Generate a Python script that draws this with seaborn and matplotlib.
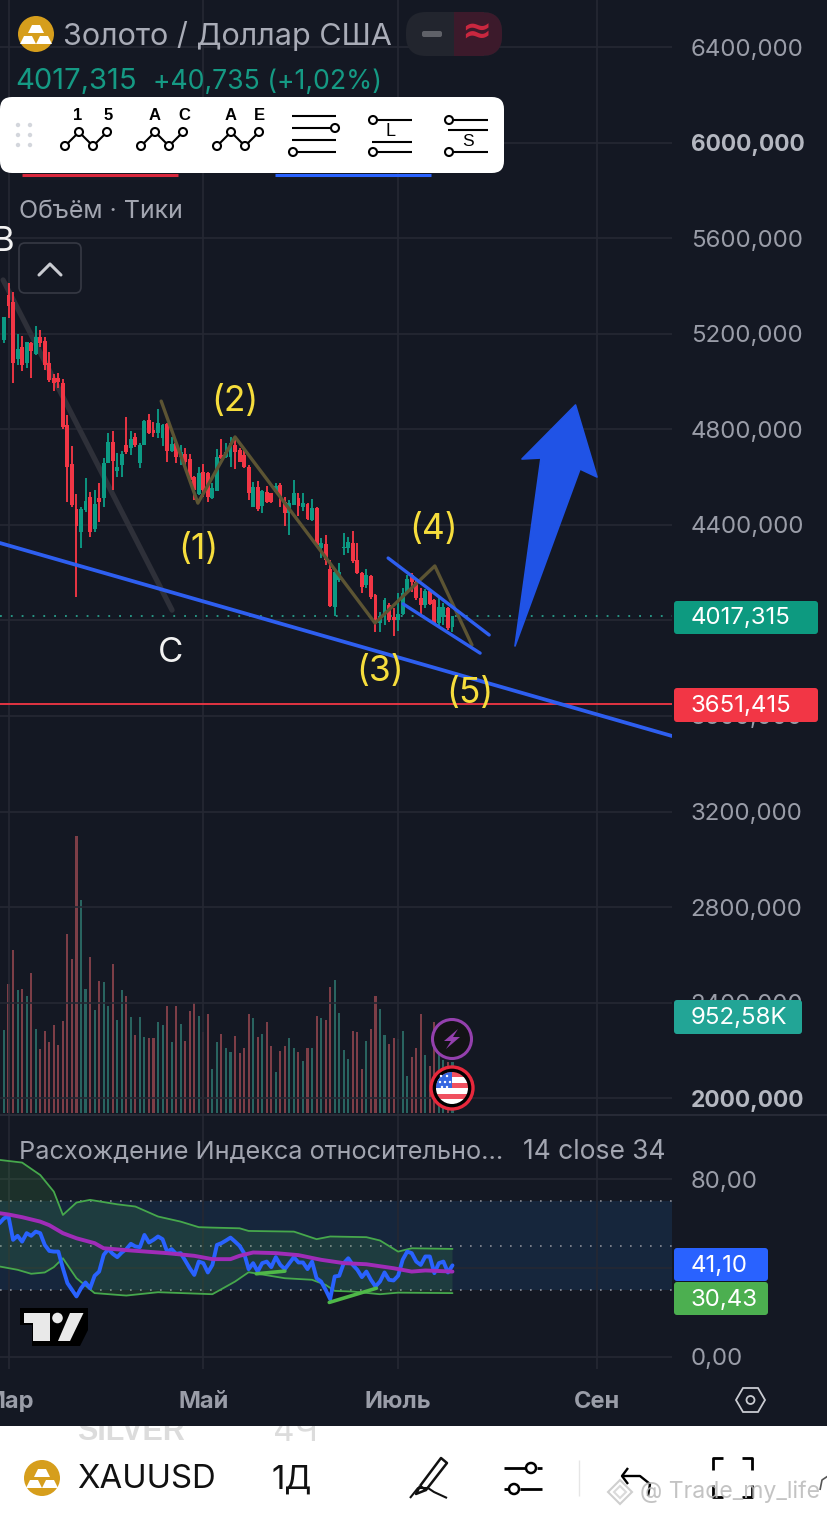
import numpy as np
import pandas as pd
import matplotlib
matplotlib.use("Agg")
import matplotlib.pyplot as plt
from matplotlib.patches import Circle, FancyBboxPatch, Polygon, Rectangle
import seaborn as sns

# ---------- data ----------
OPEN = [5174,5362,5334,5093,5143,5076,5163,5115,5185,5171,
        5076,5014,5014,4993,4818,4655,4465,4372,4462,4515,
        4381,4511,4511,4660,4748,4627,4651,4734,4721,4767,
        4660,4734,4839,4797,4783,4762,4822,4711,4741,4683,
        4697,4677,4602,4529,4620,4619,4511,4543,4693,4683,
        4686,4734,4714,4693,4644,4474,4560,4479,4539,4535,
        4539,4567,4497,4448,4483,4511,4476,4487,4420,4469,
        4302,4320,4214,4058,4169,4302,4302,4325,4253,4200,
        4148,4186,4106,3991,4016,4064,4016,4002,4027,4116,
        4190,4162,4092,4064,4124,4085,3991,4016,4050,3971]
HIGH = [5272,5414,5376,5199,5191,5167,5167,5233,5216,5188,
        5125,5032,5037,5009,4860,4730,4529,4476,4595,4539,
        4546,4574,4679,4783,4793,4700,4709,4850,4794,4786,
        4741,4839,4863,4832,4884,4822,4828,4769,4744,4734,
        4721,4697,4605,4641,4655,4623,4574,4716,4758,4741,
        4769,4772,4721,4714,4651,4581,4585,4546,4563,4535,
        4574,4574,4518,4504,4588,4535,4532,4490,4507,4474,
        4344,4358,4253,4211,4239,4364,4351,4376,4325,4204,
        4214,4190,4111,4037,4092,4074,4050,4113,4134,4190,
        4197,4172,4134,4130,4127,4088,4092,4071,4055,4018]
LOW = [5163,5265,4993,5069,5046,5055,5014,5111,5143,5048,
       5000,4962,4972,4800,4497,4474,4097,4302,4455,4348,
       4372,4414,4476,4658,4546,4599,4602,4695,4693,4725,
       4637,4734,4779,4767,4762,4730,4665,4707,4660,4651,
       4644,4574,4504,4525,4518,4497,4507,4543,4674,4679,
       4644,4634,4662,4637,4504,4474,4460,4448,4490,4490,
       4532,4476,4395,4358,4483,4437,4460,4420,4418,4309,
       4260,4232,4058,4018,4162,4274,4284,4239,4194,4113,
       4134,4088,3953,3953,3981,3995,3935,3957,4023,4113,
       4120,4085,4016,4050,4064,3981,3977,3981,3960,3953]
CLOSE = [5272,5314,5079,5135,5069,5167,5129,5188,5163,5069,
         5007,4993,5000,4808,4641,4483,4395,4465,4501,4372,
         4487,4497,4660,4748,4669,4644,4695,4707,4760,4734,
         4734,4836,4783,4783,4825,4818,4711,4739,4686,4707,
         4665,4588,4546,4616,4546,4518,4553,4683,4679,4707,
         4741,4707,4665,4644,4532,4560,4465,4543,4497,4497,
         4563,4515,4448,4490,4532,4479,4490,4423,4469,4316,
         4323,4253,4060,4204,4204,4309,4330,4250,4197,4138,
         4190,4099,3991,4018,4085,4002,4002,4027,4116,4172,
         4162,4092,4064,4124,4069,3988,4055,4055,3967,4017]
VOLUME_K = [1545,2417,3040,2305,2324,2180,2623,1564,1190,1526,
            1321,1638,1265,1713,3339,2884,5171,3975,2324,2909,
            1919,2461,2442,1994,2779,1732,2293,2180,1788,1452,
            1788,1414,1396,1396,1695,1638,1994,1321,1994,1657,
            1339,1900,2050,1807,1508,1844,816,1321,1470,1209,
            1134,1433,1115,1209,1844,1769,1414,1470,1695,1246,
            760,1153,1246,1396,1209,1134,966,1209,1209,1807,
            1769,1732,2349,2480,1863,1171,1003,1526,1508,816,
            1339,1564,2180,1938,1452,1283,1396,1377,1526,685,
            1040,1209,1844,1078,872,1695,1171,984,953,953]
RSI = [60.1,62.3,63.1,52.6,54.4,51.8,55.6,54.4,56.3,55.6,50.3,
       47.6,47.3,47.3,39.8,33.1,30.1,27.1,30.8,33.4,30.8,
       36.4,38.3,45.8,48.4,46.3,44.8,46.9,48.4,50.8,49.6,
       49.3,54.8,51.4,52.6,54.1,52.9,47.3,48.4,46.3,46.6,
       43.3,39.8,36.8,42.8,42.1,37.9,41.3,50.3,51.1,52.3,
       53.6,51.8,49.9,46.6,39.4,42.1,38.3,42.1,42.8,40.3,
       44.8,41.3,39.4,42.1,44.8,42.4,42.4,39.4,42.8,35.3,
       33.8,30.1,25.9,36.1,36.4,42.1,44.3,41.3,39.1,35.8,
       38.3,34.6,31.6,33.8,37.9,34.6,34.3,36.4,43.6,47.3,
       46.6,42.8,41.3,45.1,45.1,37.6,42.1,42.8,37.9,41.1]
RSI_MA_BAR = [-1,1,4,8,10,13,16,20,22,28,36,42,46,50,52,55,60,65,70,75,80,86,90,93,99]
RSI_MA = [64.6,64.0,62.8,60.8,59.2,55.6,53.3,51.1,48.8,47.8,46.6,45.4,43.9,43.9,45.4,
          46.9,46.6,45.7,43.6,42.1,41.6,39.8,38.3,38.8,38.3]
BB_UP_BAR = [-1,4,8,11,13,16,19,25,29,34,39,43,46,52,54,64,69,72,80,83,87,90,99]
BB_UP = [88.6,87.4,81.8,74.3,63.8,69.4,70.6,68.6,67.6,63.1,60.8,58.3,58.1,57.8,56.6,
         56.3,52.9,54.1,53.8,52.3,47.3,48.8,48.5]
BB_LOW_BAR = [-1,3,6,9,11,13,16,20,27,34,46,51,54,62,68,71,73,77,83,87,99]
BB_LOW = [40.6,39.1,37.3,37.9,40.3,44.3,35.3,28.6,27.5,29.0,28.1,33.8,38.0,35.3,34.6,
          32.3,29.6,29.3,28.1,28.8,28.6]
DIV1_BAR, DIV1 = [55.7,62.0], [37.3,38.5]
DIV2_BAR, DIV2 = [71.8,82.2], [24.4,30.8]

PRICE_TICKS = [6400,6000,5600,5200,4800,4400,4000,3600,3200,2800,2400,2000]
PRICE_LABELS = ["6400,000","6000,000","5600,000","5200,000","4800,000","4400,000",
                "","3600,000","3200,000","2800,000","2400,000","2000,000"]
RSI_TICKS = [0,40,80]
RSI_LABELS = ["0,00","","80,00"]
MONTH_BARS = [1,44,87,131]
MONTHS = ["Мар","Май","Июль","Сен"]
LAST_PRICE = 4017.315
RED_LEVEL = 3651.415
WAVE_BAR, WAVE_PRICE = [34.7,42.8,51.0,81.9,95.1,103.3], [4918,4491,4768,3989,4228,3897]
GREY_BAR, GREY_PRICE = [-0.2,37.1], [5425,4043]
TREND_BAR, TREND_PRICE = [-0.9,147.5], [4324,3516]
CH_UP_BAR, CH_UP = [84.8,107.1], [4261,3939]
CH_LOW_BAR, CH_LOW = [88.1,105.1], [4069,3863]

# ---------- style ----------
BG = "#141823"
GRID = "#252833"
AXTXT = "#9a9da8"
UP, DOWN = "#0c9a84", "#f23645"
sns.set_theme(style="dark", rc={"axes.facecolor": "none", "figure.facecolor": BG,
                                "axes.edgecolor": BG, "axes.linewidth": 0,
                                "xtick.color": AXTXT, "ytick.color": AXTXT,
                                "patch.edgecolor": "none"})
plt.rcParams["font.family"] = ["Inter", "DejaVu Sans"]

W, H = 828, 1516
fig = plt.figure(figsize=(W/100, H/100), dpi=100, facecolor=BG)
def px_axes(x0, y0, x1, y1, **kw):
    return fig.add_axes([x0/W, 1-y1/H, (x1-x0)/W, (y1-y0)/H], **kw)

XLIM = (-0.883, 147.46)
bars = np.arange(100)
O, Hi, Lo, C = map(np.array, (OPEN, HIGH, LOW, CLOSE))
rising = C >= O

# ---------- volume ----------
vol_ax = px_axes(0, 830, 672, 1113, zorder=1)
df = pd.DataFrame({"bar": bars, "vol": VOLUME_K, "dir": np.where(rising, "up", "down")})
sns.barplot(data=df, x="bar", y="vol", hue="dir", palette={"up": "#1f6e68", "down": "#873340"},
            native_scale=True, dodge=False, width=0.46, legend=False, ax=vol_ax, linewidth=0)
vol_ax.set_xlim(*XLIM); vol_ax.set_ylim(0, 5289); vol_ax.axis("off")

# ---------- price pane ----------
ax = px_axes(0, 0, 672, 1115, zorder=2)
ax.set_xlim(*XLIM); ax.set_ylim(6597-4.186*1115, 6597)
ax.set_xticks(MONTH_BARS); ax.set_xticklabels([])
ax.set_yticks(PRICE_TICKS); ax.set_yticklabels(PRICE_LABELS)
ax.yaxis.tick_right()
ax.tick_params(axis="y", length=0, pad=13.5, labelsize=17.3, labelcolor=AXTXT)
ax.tick_params(axis="x", length=0)
ax.grid(True, color=GRID, lw=1.2)
for lab, v in zip(ax.get_yticklabels(), PRICE_TICKS):
    if v in (6000, 2000):
        lab.set_fontweight("bold"); lab.set_color("#b4b7c0"); lab.set_fontsize(16.4)
ax.axhline(LAST_PRICE, color="#2aa08c", lw=1.3, ls=(0, (1, 5)), zorder=3)
ax.axhline(RED_LEVEL, color="#f23645", lw=1.3, zorder=3)
sns.lineplot(x=GREY_BAR, y=GREY_PRICE, ax=ax, color="#2e3039", lw=3.8, sort=False, zorder=3)
ax.vlines(bars, Lo, Hi, colors=np.where(rising, UP, DOWN), lw=1.35, zorder=4)
ax.bar(bars, np.maximum(np.abs(C-O), 3), bottom=np.minimum(O, C), width=0.86,
       color=np.where(rising, UP, DOWN), lw=0, zorder=4)
sns.lineplot(x=WAVE_BAR, y=WAVE_PRICE, ax=ax, color="#5c5433", lw=2.4, sort=False, zorder=5)
sns.lineplot(x=TREND_BAR, y=TREND_PRICE, ax=ax, color="#2e5ff0", lw=2.7, sort=False, zorder=6)
sns.lineplot(x=CH_UP_BAR, y=CH_UP, ax=ax, color="#2e5ff0", lw=2.4, sort=False, zorder=6)
sns.lineplot(x=CH_LOW_BAR, y=CH_LOW, ax=ax, color="#2e5ff0", lw=2.4, sort=False, zorder=6)
ax.set_xlabel(""); ax.set_ylabel("")

# ---------- RSI pane ----------
rx = px_axes(0, 1115, 672, 1369, zorder=2)
rx.set_xlim(*XLIM); rx.set_ylim((1356.6-1369)/2.22, (1356.6-1115)/2.22)
rx.axhspan(30, 70, color="#16263c", lw=0, zorder=0)
rx.set_xticks(MONTH_BARS); rx.set_xticklabels(MONTHS, fontweight="bold", fontsize=17, color="#9a9da8")
rx.set_yticks(RSI_TICKS); rx.set_yticklabels(RSI_LABELS)
rx.yaxis.tick_right()
rx.tick_params(axis="y", length=0, pad=13.5, labelsize=17.3, labelcolor=AXTXT)
rx.tick_params(axis="x", length=0, pad=15.5)
rx.grid(True, color=GRID, lw=1.2)
for lvl in (70, 50, 30):
    rx.axhline(lvl, color="#8a8d97", lw=1.2, ls=(0, (1, 5)), zorder=2)
rx.fill(BB_UP_BAR + BB_LOW_BAR[::-1], BB_UP + BB_LOW[::-1], color="#4caf50", alpha=0.16, lw=0, zorder=2)
sns.lineplot(x=BB_UP_BAR, y=BB_UP, ax=rx, color="#46a84c", lw=1.3, sort=False, zorder=3)
sns.lineplot(x=BB_LOW_BAR, y=BB_LOW, ax=rx, color="#46a84c", lw=1.3, sort=False, zorder=3)
sns.lineplot(x=np.arange(-1, 100), y=RSI, ax=rx, color="#2962ff", lw=2.8, sort=False, zorder=4)
sns.lineplot(x=RSI_MA_BAR, y=RSI_MA, ax=rx, color="#a02cb8", lw=2.8, sort=False, zorder=5)
sns.lineplot(x=DIV1_BAR, y=DIV1, ax=rx, color="#4fb848", lw=2.6, sort=False, zorder=6)
sns.lineplot(x=DIV2_BAR, y=DIV2, ax=rx, color="#4fb848", lw=2.6, sort=False, zorder=6)
rx.set_xlabel(""); rx.set_ylabel("")

# ---------- overlay in pixel coordinates ----------
ui = fig.add_axes([0, 0, 1, 1], zorder=10)
ui.set_xlim(0, W); ui.set_ylim(H, 0); ui.axis("off"); ui.patch.set_alpha(0)

def rrect(x0, y0, x1, y1, fc, r=4, ec="none", lw=0, z=1):
    p = FancyBboxPatch((x0+r, y0+r), x1-x0-2*r, y1-y0-2*r, boxstyle=f"round,pad={r},rounding_size={r}",
                       fc=fc, ec=ec, lw=lw, zorder=z)
    ui.add_patch(p); return p
def txt(x, y, s, size, color, ha="left", va="center", weight="normal", z=5, **kw):
    return ui.text(x, y, s, fontsize=size, color=color, ha=ha, va=va, fontweight=weight, zorder=z, **kw)
def seg(xs, ys, color="black", lw=1.5, z=4, **kw):
    ui.plot(xs, ys, color=color, lw=lw, zorder=z, solid_capstyle=kw.pop("cap", "butt"), **kw)
def ring(x, y, r=4, ec="black", lw=1.5, fc="white", z=5):
    ui.add_patch(Circle((x, y), r, fc=fc, ec=ec, lw=lw, zorder=z))

# separator
ui.plot([0, W], [1114.5, 1114.5], color="#2b2e3a", lw=1.2, zorder=0)

# hand-drawn arrow
ui.add_patch(Polygon([(575.5,405),(597,477),(580,469),(515,646),(541,458),(522,459)], closed=True,
                     fc="#2053e6", ec="#2053e6", lw=1.2, joinstyle="round", zorder=3))

# wave labels
YEL = "#f6dd3c"
for x, y, s in [(198,550,"(1)"),(235,402,"(2)"),(380,672,"(3)"),(434,529,"(4)"),(470,693,"(5)")]:
    txt(x, y, s, 25.5, YEL, ha="center")
txt(171, 653, "C", 25, "#f2f2f2", ha="center")
txt(3, 242, "B", 25, "#f2f2f2", ha="center")

# header
GOLD = "#d69e1c"
def gold_icon(cx, cy, r):
    ui.add_patch(Circle((cx, cy), r, fc=GOLD, ec="none", zorder=3))
    k = r/18
    for dx, dy in [(0,-5),(-8,6),(8,6)]:
        ui.add_patch(Polygon([(cx+(dx-4)*k, cy+(dy-4)*k),(cx+(dx+4)*k, cy+(dy-4)*k),
                              (cx+(dx+8)*k, cy+(dy+4)*k),(cx+(dx-8)*k, cy+(dy+4)*k)],
                             fc="white", ec="none", zorder=4))
gold_icon(36, 34, 18)
txt(63, 36, "Золото / Доллар США", 22, "#a9acb7")
rrect(406, 12, 502, 56, "#22252e", r=20)
ui.add_patch(Rectangle((454, 12), 30, 44, fc="#3c1a2b", lw=0, zorder=2))
rrect(470, 12, 502, 56, "#3c1a2b", r=20, z=2)
rrect(422, 31, 442, 37, "#5f6168", r=2, z=3)
txt(476, 33, "≈", 26, "#c9273f", ha="center", weight="bold", family=["DejaVu Sans"])
txt(15, 82, "4017,315", 21, "#159a84")
txt(153, 82, "+40,735 (+1,02%)", 19.2, "#159a84")
txt(19, 212, "Объём · Тики", 18, "#a2a5b0")
rrect(19, 243, 81, 293, BG, r=6, ec="#363944", lw=1.2)
seg([39, 50, 61], [275, 264, 275], color="#c9cbd1", lw=2.2, cap="round")

# toolbar
seg([22, 178], [174.5, 174.5], color="#d9273c", lw=2.2, z=1)
seg([275, 431], [174.5, 174.5], color="#2962ff", lw=2.2, z=1)
rrect(0, 97, 504, 173, "white", r=12, z=2)
for px in (18, 30):
    for py in (125, 135, 145):
        ui.add_patch(Circle((px, py), 2.2, fc="#d3d6dc", ec="none", zorder=4))
for off, a, b, ax_, bx_ in [(0,"1","5",78,108),(76,"A","C",155,184),(152,"A","E",231,259)]:
    xs = [65+off, 79+off, 93+off, 107+off]; ys = [146, 132, 146, 132]
    seg(xs, ys)
    for x_, y_ in zip(xs, ys):
        ring(x_, y_)
    txt(ax_, 115.5, a, 12, "black", ha="center", weight="bold", family=["Liberation Sans"])
    txt(bx_, 115.5, b, 12, "black", ha="center", weight="bold", family=["Liberation Sans"])
seg([292,336],[116,116]); seg([292,332],[128,128]); seg([292,336],[140,140]); seg([297,336],[152,152])
ring(335,128); ring(293,152)
seg([377,412],[120,120]); seg([372,412],[142,142]); seg([377,412],[152,152]); ring(373,120); ring(373,152)
txt(391, 131, "L", 13, "black", ha="center", family=["Liberation Sans"])
seg([453,488],[120,120]); seg([448,488],[130,130]); seg([453,488],[152,152]); ring(449,120); ring(449,152)
txt(468, 141, "S", 12.5, "black", ha="center", family=["Liberation Sans"])

# price pills
for x0, y0, x1, y1, col, s in [(674,601,818,634,"#0d9a80","4017,315"),(674,688,818,722,"#f23645","3651,415"),
                               (674,1000,802,1034,"#22a596","952,58K"),(674,1248,768,1281,"#2962ff","41,10"),
                               (674,1282,768,1315,"#4caf50","30,43")]:
    rrect(x0, y0, x1, y1, col, r=3)
    txt(691, (y0+y1)/2+1, s, 17.3, "white")

# RSI legend
txt(19, 1152, "Расхождение Индекса относительно...", 18.2, "#a2a5b0")
txt(523, 1152, "14 close 34", 19, "#a2a5b0")

# TV logo
ui.add_patch(Polygon([(20,1308),(88,1308),(88,1330),(80,1346),(32,1346),(32,1325),(20,1325)], fc="black", ec="none", zorder=3))
ui.add_patch(Polygon([(24,1313),(50.5,1313),(50.5,1341),(33,1341),(33,1323),(24,1323)], fc="#e9e9e9", ec="none", zorder=4))
ui.add_patch(Circle((57.5,1318), 5.3, fc="#e9e9e9", ec="none", zorder=4))
ui.add_patch(Polygon([(70,1313),(83.5,1313),(70,1341),(58,1341)], fc="#e9e9e9", ec="none", zorder=4))

# lightning badge
ui.add_patch(Circle((452,1039), 19.5, fc="#131316", ec="#9440ad", lw=2.2, zorder=4))
ui.add_patch(Polygon([(458,1029),(444,1041),(451,1041),(446,1049),(460,1037),(453,1037)], fc="#9440ad", ec="none", zorder=5))

# flag badge
ui.add_patch(Circle((452,1088), 21, fc="black", ec="#e8283c", lw=2.4, zorder=4))
clip = Circle((452,1088), 16, transform=ui.transData)
for i in range(6):
    col = "#f0505f" if i % 2 == 0 else "white"
    r_ = Rectangle((436, 1072+i*5.4), 32, 5.4, fc=col, lw=0, zorder=5)
    ui.add_patch(r_); r_.set_clip_path(clip)
c_ = Rectangle((436, 1072), 16, 16, fc="#3566e0", lw=0, zorder=6)
ui.add_patch(c_); c_.set_clip_path(clip)
for sx, sy in [(441,1076),(447,1076),(440,1082),(445,1082),(450,1082),(447,1087),(442,1087)]:
    ui.add_patch(Circle((sx, sy), 1.2, fc="white", lw=0, zorder=7))

# settings hexagon
ui.add_patch(Polygon([(736,1400),(743,1388),(758,1388),(765,1400),(758,1412),(743,1412)], fc="none",
                     ec="#c9cbd1", lw=1.3, zorder=5))
ui.add_patch(Circle((750.5,1400), 4, fc="none", ec="#c9cbd1", lw=1.3, zorder=5))

# bottom panel
panel = Rectangle((0, 1426), W, 90, fc="white", lw=0, zorder=2)
ui.add_patch(panel)
t1 = txt(131, 1432, "SILVER", 22, "#dcdcdc", ha="center", weight="bold", z=3, family=["Liberation Sans"])
t2 = txt(295, 1432, "4Ч", 24, "#dcdcdc", ha="center", z=3)
for t_ in (t1, t2):
    t_.set_clip_on(True); t_.set_clip_path(panel)
gold_icon(42, 1478, 18)
txt(77, 1480, "XAUUSD", 23.7, "#111111")
txt(272, 1480, "1Д", 23.7, "#111111")
# pencil
seg([420,441,447,426,420],[1486,1458,1463,1490,1486], color="#111", lw=1.8)
seg([420,416,426],[1486,1494,1490], color="#111", lw=1.8)
seg([410,418,428,434,447],[1498,1488,1488,1492,1498], color="#111", lw=1.5)
# sliders
seg([504,526],[1468,1468], lw=2); seg([537,542],[1468,1468], lw=2); ring(531,1468,5,lw=1.8)
seg([504,509],[1489,1489], lw=2); seg([520,542],[1489,1489], lw=2); ring(514,1489,5,lw=1.8)
seg([579,579],[1460,1496], color="#e6e6e6", lw=1)
# undo
seg([628,622,628],[1468,1476,1484], lw=1.7)
seg([622,640,650,648],[1476,1476,1484,1496], lw=1.7)
# fullscreen
for xs, ys in [([713,713,723],[1470,1458,1458]),([742,752,752],[1458,1458,1470]),
               ([713,713,723],[1485,1497,1497]),([742,752,752],[1497,1497,1485])]:
    seg(xs, ys, lw=2)
seg([828,822,820],[1476,1480,1490], color="#555", lw=1.2)
# watermark
for k_, ec_ in [(12,"#cfcfcf"),(6,"#dadada")]:
    ui.add_patch(Polygon([(620,1492-k_),(620+k_,1492),(620,1492+k_),(620-k_,1492)], fc="none", ec=ec_, lw=1.5, zorder=6))
txt(640, 1492, "@ Trade_my_life", 16.6, "#b9b9b9", z=6, alpha=0.85)

fig.savefig("out.png", dpi=100, facecolor=BG)
